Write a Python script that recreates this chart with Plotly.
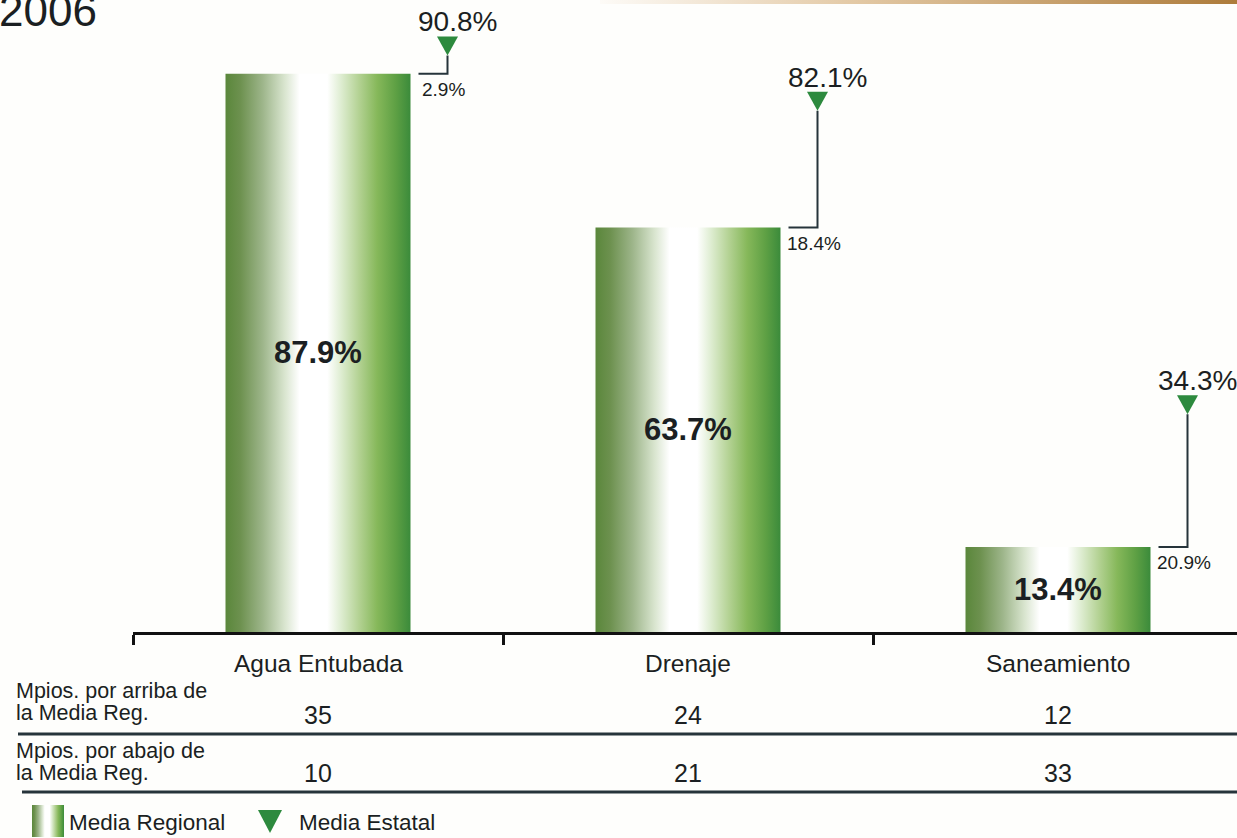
import plotly.graph_objects as go

# ---- data ----
categorias = ["Agua Entubada", "Drenaje", "Saneamiento"]
media_regional = [87.9, 63.7, 13.4]
media_estatal = [90.8, 82.1, 34.3]
mpios_arriba = [35, 24, 12]
mpios_abajo = [10, 21, 33]
filas = [("Mpios. por arriba de", "la Media Reg."),
         ("Mpios. por abajo de", "la Media Reg.")]
leyenda = ["Media Regional", "Media Estatal"]
titulo = "2006"

# ---- geometry (pixels) ----
W, H = 1237, 838
PLOT_LEFT = 133
BASE_Y = 632
PX_X = 370.0          # pixels per category step
PX_Y = 6.35           # pixels per percentage point
x_range = [-0.5, -0.5 + (W - PLOT_LEFT) / PX_X]
y_range = [0, BASE_Y / PX_Y]

BAR_HALF = 0.25
MARK_OFF = 0.35
TRI_HALF_W = 10.5 / PX_X
TRI_H = 19 / PX_Y
GAP = 8 / PX_X

FONT = "Liberation Sans, Arial, Helvetica, sans-serif"
INK = "#1b1f22"
LINE = "#26343b"
TRI_GREEN = "#2d8a3e"

bar_scale = [
    [0.00, "#5a873b"], [0.08, "#6d914f"], [0.20, "#9db58a"],
    [0.32, "#d9e5cf"], [0.40, "#ffffff"], [0.55, "#ffffff"],
    [0.62, "#e0eed4"], [0.72, "#b4d294"], [0.82, "#86b85a"],
    [0.92, "#5ea044"], [1.00, "#3b8b3b"],
]


def py(p):
    return 1 - p / H


def px(p):
    return p / W


fig = go.Figure()

# bars with horizontal gradient
for i, v in enumerate(media_regional):
    fig.add_trace(go.Scatter(
        x=[i - BAR_HALF, i + BAR_HALF, i + BAR_HALF, i - BAR_HALF, i - BAR_HALF],
        y=[0, 0, v, v, 0],
        mode="lines", line=dict(width=0), fill="toself",
        fillgradient=dict(type="horizontal", colorscale=bar_scale),
        hoverinfo="skip", showlegend=False, xaxis="x", yaxis="y"))

# connectors and state markers
for i, (vr, ve) in enumerate(zip(media_regional, media_estatal)):
    xm = i + MARK_OFF
    fig.add_trace(go.Scatter(
        x=[i + BAR_HALF + GAP, xm, xm], y=[vr, vr, ve],
        mode="lines", line=dict(color=LINE, width=2),
        hoverinfo="skip", showlegend=False))
    fig.add_trace(go.Scatter(
        x=[xm - TRI_HALF_W, xm + TRI_HALF_W, xm, xm - TRI_HALF_W],
        y=[ve + TRI_H, ve + TRI_H, ve, ve + TRI_H],
        mode="lines", line=dict(width=0), fill="toself", fillcolor=TRI_GREEN,
        hoverinfo="skip", showlegend=False))

annotations = []
for i, (vr, ve) in enumerate(zip(media_regional, media_estatal)):
    xm = i + MARK_OFF
    annotations.append(dict(
        x=i, y=vr / 2, xref="x", yref="y", text=f"<b>{vr:.1f}%</b>",
        showarrow=False, font=dict(family=FONT, size=31, color=INK)))
    annotations.append(dict(
        x=xm, y=ve + TRI_H, xref="x", yref="y", text=f"{ve:.1f}%",
        yanchor="bottom", xshift=10, yshift=-3, showarrow=False,
        font=dict(family=FONT, size=28, color=INK)))
    annotations.append(dict(
        x=xm, y=vr, xref="x", yref="y", text=f"{ve - vr:.1f}%",
        yanchor="top", xshift=-4, yshift=-3, showarrow=False,
        font=dict(family=FONT, size=19, color=INK)))

# table under the axis
for i, c in enumerate(categorias):
    annotations.append(dict(
        x=i, y=py(663), xref="x", yref="paper", text=c, showarrow=False,
        yanchor="middle", font=dict(family=FONT, size=24.5, color=INK)))
    annotations.append(dict(
        x=i, y=py(715), xref="x", yref="paper", text=str(mpios_arriba[i]),
        showarrow=False, yanchor="middle",
        font=dict(family=FONT, size=25, color=INK)))
    annotations.append(dict(
        x=i, y=py(773), xref="x", yref="paper", text=str(mpios_abajo[i]),
        showarrow=False, yanchor="middle",
        font=dict(family=FONT, size=25, color=INK)))

for (l1, l2), (y1, y2) in zip(filas, [(691, 713), (751, 773)]):
    for txt, yy in ((l1, y1), (l2, y2)):
        annotations.append(dict(
            x=px(14), y=py(yy), xref="paper", yref="paper", text=txt,
            xanchor="left", yanchor="middle", showarrow=False,
            font=dict(family=FONT, size=21.5, color=INK)))

# legend text
annotations.append(dict(
    x=px(67), y=py(822), xref="paper", yref="paper", text=leyenda[0],
    xanchor="left", yanchor="middle", showarrow=False,
    font=dict(family=FONT, size=22.5, color=INK)))
annotations.append(dict(
    x=px(297), y=py(822), xref="paper", yref="paper", text=leyenda[1],
    xanchor="left", yanchor="middle", showarrow=False,
    font=dict(family=FONT, size=22.5, color=INK)))

# year heading
annotations.append(dict(
    x=px(-3), y=py(10), xref="paper", yref="paper", text=titulo,
    xanchor="left", yanchor="middle", showarrow=False,
    font=dict(family=FONT, size=44, color=INK)))

shapes = [
    dict(type="line", xref="paper", yref="paper", x0=px(18), x1=1,
         y0=py(734), y1=py(734), line=dict(color=LINE, width=3)),
    dict(type="line", xref="paper", yref="paper", x0=px(22), x1=1,
         y0=py(792), y1=py(792), line=dict(color=LINE, width=3)),
]

# page-level decoration and legend icons, in pixel units
fig.add_trace(go.Scatter(
    x=[600, W, W, 600, 600], y=[0, 0, 4, 4, 0],
    mode="lines", line=dict(width=0), fill="toself",
    fillgradient=dict(type="horizontal", colorscale=[
        [0, "#fdfbf7"], [0.4, "#e3c9a5"], [1, "#ad7b3a"]]),
    hoverinfo="skip", showlegend=False, xaxis="x2", yaxis="y2"))
fig.add_trace(go.Scatter(
    x=[32, 64, 64, 32, 32], y=[805, 805, 837, 837, 805],
    mode="lines", line=dict(width=0), fill="toself",
    fillgradient=dict(type="horizontal", colorscale=bar_scale),
    hoverinfo="skip", showlegend=False, xaxis="x2", yaxis="y2"))
fig.add_trace(go.Scatter(
    x=[258, 282, 270, 258], y=[810, 810, 833, 810],
    mode="lines", line=dict(width=0), fill="toself", fillcolor=TRI_GREEN,
    hoverinfo="skip", showlegend=False, xaxis="x2", yaxis="y2"))

fig.update_layout(
    width=W, height=H, margin=dict(l=0, r=0, t=0, b=0),
    paper_bgcolor="#fefefc", plot_bgcolor="rgba(0,0,0,0)",
    showlegend=False,
    xaxis=dict(domain=[px(PLOT_LEFT), 1], range=x_range, showgrid=False,
               zeroline=False, showline=True, linecolor="#111", linewidth=3,
               ticks="outside", ticklen=10, tickwidth=3, tickcolor="#111",
               tickvals=[-0.5, 0.5, 1.5, 2.5], showticklabels=False,
               fixedrange=True),
    yaxis=dict(domain=[py(BASE_Y), 1], range=y_range, visible=False,
               fixedrange=True),
    xaxis2=dict(domain=[0, 1], range=[0, W], visible=False, anchor="y2",
                fixedrange=True),
    yaxis2=dict(domain=[0, 1], range=[H, 0], visible=False, anchor="x2",
                fixedrange=True),
    annotations=annotations, shapes=shapes,
)

fig.write_html("out.html")
